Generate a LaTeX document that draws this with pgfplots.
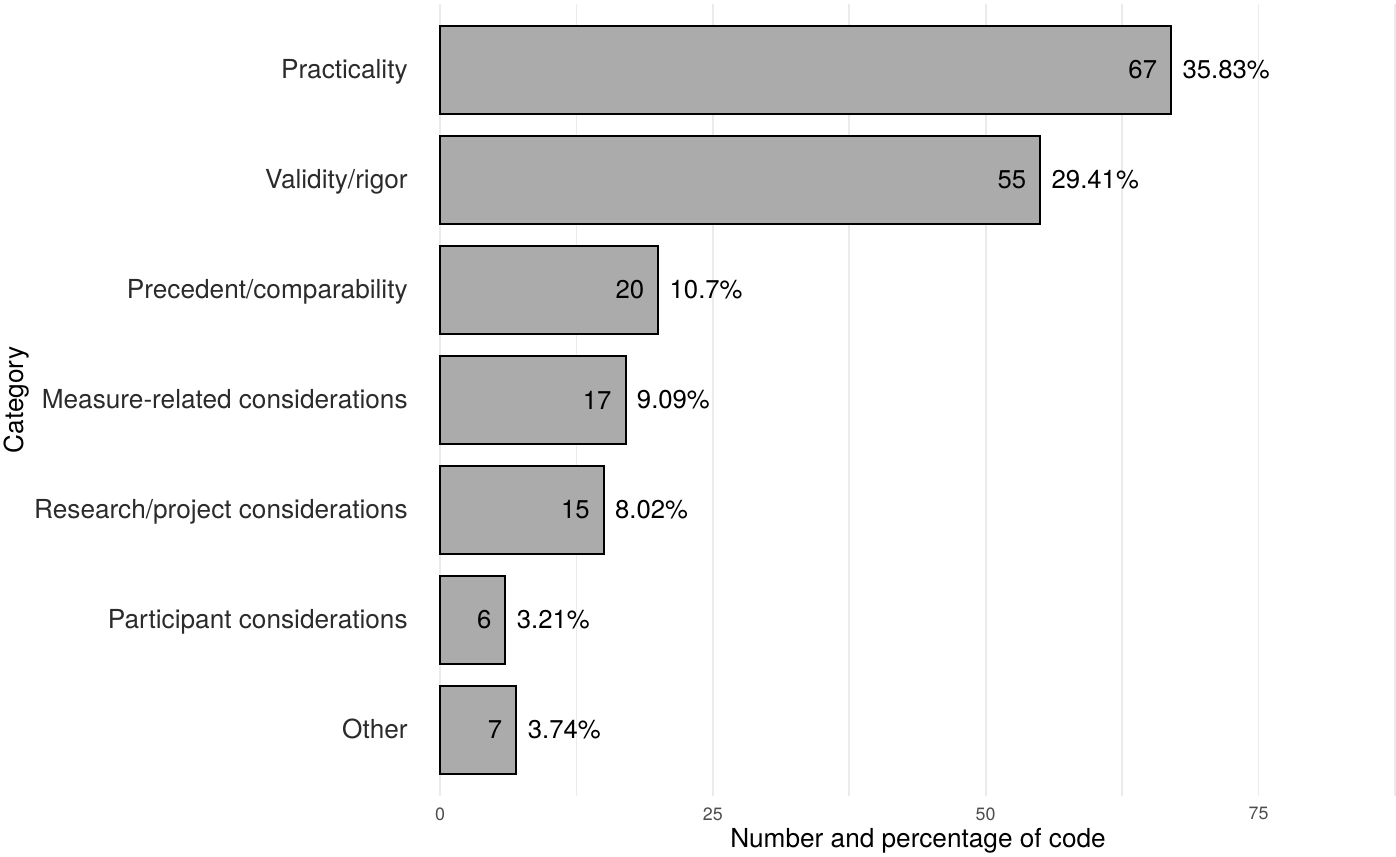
\documentclass[border=0pt]{standalone}
\usepackage{fontspec}
\setmainfont{TeX Gyre Heros}
\usepackage{pgfplots}
\usepackage{pgfplotstable}
\pgfplotsset{compat=1.18}

\definecolor{barfill}{HTML}{ABABAB}
\definecolor{gridgray}{HTML}{EBEBEB}
\definecolor{axtext}{HTML}{4D4D4D}
\definecolor{cattext}{HTML}{2B2B2B}

% y: position from bottom, n: count, pct: share of all codes
\pgfplotstableread{
y n  pct
7 67 35.83
6 55 29.41
5 20 10.7
4 17 9.09
3 15 8.02
2 6  3.21
1 7  3.74
}\reasons

\begin{document}
\begin{tikzpicture}
  % 1 px of the reference = 0.42pt
  \path[use as bounding box] (0,0) rectangle (586.32pt,359.52pt);
  \begin{axis}[%
    at={(184.8pt,25.2pt)}, anchor=south west,
    width=401.52pt, height=332.64pt, scale only axis,
    clip=false,
    axis line style={draw=none},
    major tick length=0pt, minor tick length=0pt,
    /pgf/number format/assume math mode=true,
    % x-axis
    xmin=0, xmax=87.6,
    xtick={0,25,50,75},
    minor xtick={12.5,37.5,62.5,87.5},
    xmajorgrids, xminorgrids,
    grid style={gridgray, line width=0.7pt},
    xticklabel style={font=\fontsize{7.5}{9}\selectfont, text=axtext, inner sep=0pt, anchor=north, yshift=-4.6pt},
    % y-axis
    ymin=0.4, ymax=7.6,
    ytick={1,...,7},
    yticklabels={Other, Participant considerations, Research/project considerations,
      Measure-related considerations, Precedent/comparability, Validity/rigor, Practicality},
    yticklabel style={font=\fontsize{11}{13}\selectfont, text=cattext, inner sep=0pt,
      anchor=base east, xshift=-13.4pt, yshift=-3.5pt},
    ymajorgrids=false,
    ]

    % bars, with the count inside the end of each bar
    \addplot[xbar, bar width=0.8, bar shift=0pt, fill=barfill, draw=black, line width=0.85pt,
      point meta=x,
      nodes near coords={\pgfmathprintnumber{\pgfplotspointmeta}},
      every node near coord/.style={anchor=east, xshift=-5.5pt, inner sep=0pt,
        font=\fontsize{10.8}{13}\selectfont, text=black}]
      table[x=n, y=y] {\reasons};

    % percentages just outside the bars
    \addplot[draw=none, mark=none,
      point meta=explicit,
      nodes near coords={\pgfmathprintnumber[fixed, precision=2]{\pgfplotspointmeta}\%},
      every node near coord/.style={anchor=west, xshift=4.6pt, inner sep=0pt,
        font=\fontsize{10.8}{13}\selectfont, text=black}]
      table[x=n, y=y, meta=pct] {\reasons};
  \end{axis}

  \node[anchor=base, inner sep=0pt, font=\fontsize{11}{13}\selectfont] at (385.56pt,3.78pt)
    {Number and percentage of code};
  \node[rotate=90, anchor=base, inner sep=0pt, font=\fontsize{11}{13}\selectfont] at (9.66pt,191.52pt)
    {Category};
\end{tikzpicture}
\end{document}
